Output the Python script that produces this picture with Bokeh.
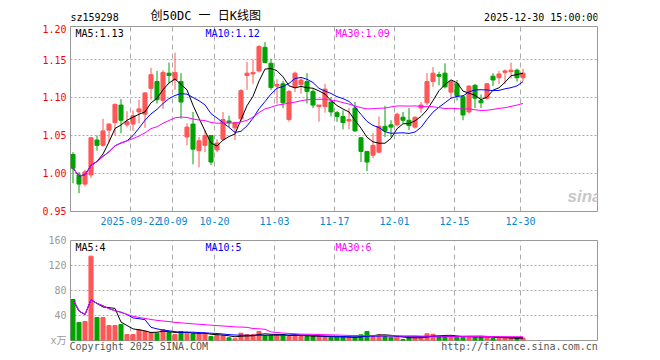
from bokeh.plotting import figure
from bokeh.layouts import column
from bokeh.models import ColumnDataSource, Range1d, FixedTicker, Label, NumeralTickFormatter
from bokeh.embed import file_html
from bokeh.resources import INLINE

# ---------------- data ----------------
opens = [1.025, 0.998, 0.986, 0.998, 1.044, 1.037, 1.057, 1.067, 1.090, 1.064,
         1.065, 1.081, 1.078, 1.112, 1.121, 1.096, 1.132, 1.123, 1.121, 1.048,
         1.065, 1.030, 1.037, 1.050, 1.031, 1.045, 1.069, 1.060, 1.072, 1.129,
         1.131, 1.135, 1.166, 1.145, 1.115, 1.118, 1.071, 1.113, 1.117, 1.121,
         1.108, 1.088, 1.088, 1.094, 1.080, 1.075, 1.069, 1.086, 1.047, 1.029,
         1.024, 1.028, 1.062, 1.064, 1.064, 1.074, 1.070, 1.061, 1.086, 1.093,
         1.121, 1.130, 1.132, 1.107, 1.118, 1.101, 1.081, 1.116, 1.096, 1.099,
         1.128, 1.126, 1.133, 1.134, 1.136, 1.126]
highs = [1.028, 1.002, 1.005, 1.048, 1.050, 1.072, 1.066, 1.092, 1.098, 1.082,
         1.083, 1.097, 1.107, 1.139, 1.135, 1.136, 1.146, 1.159, 1.132, 1.066,
         1.081, 1.048, 1.057, 1.050, 1.045, 1.081, 1.076, 1.068, 1.111, 1.147,
         1.150, 1.169, 1.173, 1.151, 1.124, 1.122, 1.110, 1.134, 1.127, 1.132,
         1.111, 1.090, 1.118, 1.100, 1.082, 1.083, 1.086, 1.094, 1.048, 1.029,
         1.053, 1.075, 1.089, 1.070, 1.080, 1.081, 1.086, 1.075, 1.094, 1.132,
         1.140, 1.134, 1.145, 1.123, 1.123, 1.103, 1.116, 1.118, 1.104, 1.119,
         1.132, 1.135, 1.137, 1.146, 1.138, 1.138]
lows = [0.987, 0.974, 0.983, 0.994, 1.030, 1.035, 1.041, 1.050, 1.053, 1.061,
        1.056, 1.066, 1.060, 1.097, 1.092, 1.085, 1.119, 1.110, 1.072, 1.037,
        1.012, 1.008, 1.028, 1.011, 1.028, 1.043, 1.061, 1.044, 1.068, 1.110,
        1.118, 1.133, 1.145, 1.110, 1.092, 1.086, 1.068, 1.107, 1.105, 1.092,
        1.086, 1.068, 1.080, 1.075, 1.068, 1.058, 1.058, 1.055, 1.015, 1.003,
        1.020, 1.027, 1.048, 1.048, 1.062, 1.066, 1.057, 1.059, 1.080, 1.090,
        1.114, 1.116, 1.112, 1.099, 1.096, 1.070, 1.079, 1.086, 1.086, 1.097,
        1.115, 1.118, 1.118, 1.125, 1.121, 1.121]
closes = [1.007, 0.986, 1.002, 1.047, 1.037, 1.056, 1.065, 1.091, 1.070, 1.068,
          1.076, 1.085, 1.106, 1.130, 1.097, 1.133, 1.129, 1.133, 1.094, 1.061,
          1.032, 1.043, 1.050, 1.015, 1.040, 1.071, 1.067, 1.067, 1.109, 1.132,
          1.133, 1.167, 1.146, 1.113, 1.117, 1.093, 1.108, 1.132, 1.123, 1.108,
          1.090, 1.090, 1.111, 1.081, 1.075, 1.067, 1.071, 1.056, 1.029, 1.015,
          1.037, 1.062, 1.056, 1.061, 1.078, 1.070, 1.063, 1.074, 1.090, 1.121,
          1.132, 1.128, 1.114, 1.121, 1.102, 1.077, 1.115, 1.099, 1.093, 1.118,
          1.123, 1.131, 1.135, 1.136, 1.126, 1.132]
volumes = [65.6, 28.8, 30.4, 135.0, 36.8, 36.8, 24.0, 24.0, 25.6, 9.6,
           9.6, 17.0, 15.0, 12.8, 11.7, 17.6, 12.8, 9.6, 14.4, 11.7,
           10.7, 10.7, 10.7, 6.4, 8.0, 8.0, 4.3, 2.7, 11.7, 9.6,
           9.6, 14.4, 8.0, 8.0, 8.0, 9.6, 6.4, 9.0, 6.4, 6.4,
           6.4, 6.4, 6.4, 5.3, 5.3, 5.3, 4.3, 5.3, 9.0, 14.4,
           6.4, 9.0, 6.4, 5.3, 5.3, 1.6, 4.3, 5.3, 5.3, 10.7,
           10.0, 6.4, 8.0, 6.4, 5.3, 5.3, 6.0, 6.0, 6.0, 6.0,
           3.2, 3.0, 4.0, 4.0, 4.0, 4.0]
tick_index = [10, 17, 24, 34, 44, 54, 64, 75]
tick_labels = ["2025-09-22", "10-09", "10-20", "11-03", "11-17", "12-01", "12-15", "12-30"]
price_ticks = [0.95, 1.00, 1.05, 1.10, 1.15]
price_top = 1.1934
price_top_tick = 1.1916
price_top_label = "1.20"
vol_ticks = [0, 40, 80, 120, 160]
vol_unit = "x万"

code = "sz159298"
title = "创50DC 一 日K线图"
stamp = "2025-12-30 15:00:00"
ma_texts = ["MA5:1.13", "MA10:1.12", "MA30:1.09"]
vol_ma_texts = ["MA5:4", "MA10:5", "MA30:6"]
footer_texts = ["Copyright 2025 SINA.COM", "http://finance.sina.com.cn"]

# ---------------- derived ----------------
RED = "#ff5757"
GREEN = "#00a300"
MONO = "DejaVu Sans Mono"
CJK = "Noto Sans CJK SC"
MIXED = MONO + ", " + CJK


def moving_avg(vals, k):
    out = []
    for i in range(len(vals)):
        w = vals[max(0, i - k + 1): i + 1]
        out.append(sum(w) / len(w))
    return out


def plain_axis(ax, color, standoff):
    ax.axis_line_color = None
    ax.major_tick_line_color = None
    ax.minor_tick_line_color = None
    ax.major_tick_out = 0
    ax.major_tick_in = 0
    ax.major_label_text_font = MONO
    ax.major_label_text_font_size = "10px"
    ax.major_label_text_color = color
    ax.major_label_standoff = standoff


n = len(closes)
idx = list(range(n))
colors = [RED if c >= o else GREEN for o, c in zip(opens, closes)]
src = ColumnDataSource(dict(
    x=idx, high=highs, low=lows,
    top=[max(o, c) for o, c in zip(opens, closes)],
    bottom=[min(o, c) for o, c in zip(opens, closes)],
    color=colors, vol=volumes))

off = 0.4167
x_ticks = [i - off for i in tick_index]
x_range = Range1d(-off, -off + 527 / 6)

# ---------------- header strip (frame aligned with the panels below) ----------------
h = figure(width=660, height=24, x_range=Range1d(0, 527), y_range=Range1d(0, 24),
           x_axis_location=None, y_axis_location=None, output_backend="svg",
           toolbar_location=None, min_border_left=70, min_border_right=63,
           min_border_top=0, min_border_bottom=0)
h.outline_line_color = None
h.grid.visible = False
h.add_layout(Label(x=0, y=7.2, x_units="screen", y_units="screen", text=code,
                   text_font=MONO, text_font_size="10px", text_color="black",
                   text_baseline="middle"))
h.add_layout(Label(x=80, y=8.7, x_units="screen", y_units="screen", text=title,
                   text_font=MIXED, text_font_size="12px", text_color="black",
                   text_baseline="middle"))
h.add_layout(Label(x=528, y=7.2, x_units="screen", y_units="screen", text=stamp,
                   text_font=MONO, text_font_size="10px", text_color="black",
                   text_baseline="middle", text_align="right"))

# ---------------- price panel ----------------
p1 = figure(width=660, height=206, x_range=x_range, y_range=Range1d(0.9499, price_top + 0.00005),
            output_backend="svg", toolbar_location=None,
            min_border_left=70, min_border_right=63, min_border_top=2, min_border_bottom=19)
p1.outline_line_color = "#999999"

p1.yaxis.ticker = FixedTicker(ticks=price_ticks + [price_top_tick])
p1.yaxis.formatter = NumeralTickFormatter(format="0.00")
p1.yaxis.major_label_overrides = {price_top_tick: price_top_label}
p1.xaxis.ticker = FixedTicker(ticks=x_ticks)
p1.xaxis.major_label_overrides = {t: l for t, l in zip(x_ticks, tick_labels)}
plain_axis(p1.yaxis[0], "#ff0000", 4)
plain_axis(p1.xaxis[0], "#0b85d0", 5)

p1.ygrid.ticker = FixedTicker(ticks=price_ticks[1:])
p1.ygrid.grid_line_color = "#aaaaaa"
p1.ygrid.grid_line_dash = "2 2"
p1.xgrid.ticker = FixedTicker(ticks=x_ticks)
p1.xgrid.grid_line_color = "#aaaaaa"
p1.xgrid.grid_line_dash = "5 4"

p1.add_layout(Label(x=497, y=6, x_units="screen", y_units="screen", text="sina",
                    text_font="Liberation Sans", text_font_size="17px", text_font_style="bold italic",
                    text_color="#c8c8c8"))

p1.segment(x0="x", y0="high", x1="x", y1="low", line_color="color", line_width=1, source=src)
p1.vbar(x="x", width=0.68, top="top", bottom="bottom", fill_color="color",
        line_color="color", line_width=1, source=src)

p1.line(idx, moving_avg(closes, 5), line_color="black", line_width=1)
p1.line(idx, moving_avg(closes, 10), line_color="#0000ff", line_width=1)
p1.line(idx, moving_avg(closes, 30), line_color="#ff00ff", line_width=1)

for txt, xx, col in zip(ma_texts, [5, 135, 265], ["black", "#0000ff", "#ff00ff"]):
    p1.add_layout(Label(x=xx, y=178, x_units="screen", y_units="screen", text=txt,
                        text_font=MONO, text_font_size="10px", text_color=col,
                        text_baseline="middle"))

# ---------------- volume panel ----------------
p2 = figure(width=660, height=130, x_range=x_range, y_range=Range1d(-0.01, 160.05),
            output_backend="svg", toolbar_location=None,
            min_border_left=70, min_border_right=63, min_border_top=10, min_border_bottom=20)
p2.outline_line_color = "#999999"
p2.yaxis.ticker = FixedTicker(ticks=vol_ticks)
p2.yaxis.major_label_overrides = {0: vol_unit}
plain_axis(p2.yaxis[0], "#999999", 4)
p2.yaxis.major_label_text_font = MIXED

# footer texts shown as labels of the bottom axis
foot_pos = [(138.3 - 72.5) / 6, (519.0 - 72.5) / 6]
p2.xaxis.ticker = FixedTicker(ticks=foot_pos)
p2.xaxis.major_label_overrides = {t: l for t, l in zip(foot_pos, footer_texts)}
plain_axis(p2.xaxis[0], "#555555", 0)

p2.ygrid.ticker = FixedTicker(ticks=vol_ticks[1:-1])
p2.ygrid.grid_line_color = "#aaaaaa"
p2.ygrid.grid_line_dash = "2 2"
p2.xgrid.ticker = FixedTicker(ticks=x_ticks)
p2.xgrid.grid_line_color = "#aaaaaa"
p2.xgrid.grid_line_dash = "5 4"

p2.vbar(x="x", width=0.68, top="vol", bottom=0, fill_color="color",
        line_color="color", line_width=1, source=src)
p2.line(idx, moving_avg(volumes, 5), line_color="black", line_width=1)
p2.line(idx, moving_avg(volumes, 10), line_color="#0000ff", line_width=1)
p2.line(idx, moving_avg(volumes, 30), line_color="#ff00ff", line_width=1)

for txt, xx, col in zip(vol_ma_texts, [5, 135, 265], ["black", "#0000ff", "#ff00ff"]):
    p2.add_layout(Label(x=xx, y=93, x_units="screen", y_units="screen", text=txt,
                        text_font=MONO, text_font_size="10px", text_color=col,
                        text_baseline="middle"))

layout = column(h, p1, p2)
open("out.html", "w").write(file_html(layout, INLINE))
